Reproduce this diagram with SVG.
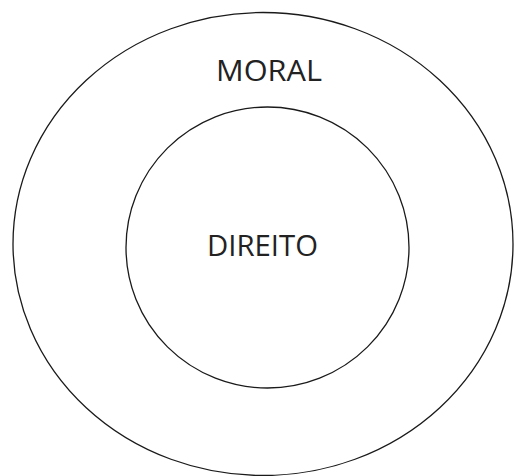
<svg xmlns="http://www.w3.org/2000/svg" width="514" height="476" viewBox="0 0 514 476">
<style>
.ring{fill:none;stroke:#1a1a1a;stroke-width:1.3}
.lbl{font-family:"Open Sans","Liberation Sans",sans-serif;font-size:29px;fill:#222;text-anchor:middle}
</style>
<rect width="514" height="476" fill="#fff"/>
<g id="moral">
<ellipse class="ring" cx="263" cy="244" rx="250" ry="231.5"/>
<text class="lbl" x="269" y="81" textLength="106" lengthAdjust="spacingAndGlyphs">MORAL</text>
</g>
<g id="direito">
<ellipse class="ring" cx="267.5" cy="247.5" rx="141.5" ry="140.5"/>
<text class="lbl" x="262.5" y="256" textLength="111" lengthAdjust="spacingAndGlyphs">DIREITO</text>
</g>
<g id="connectors"/>
</svg>
